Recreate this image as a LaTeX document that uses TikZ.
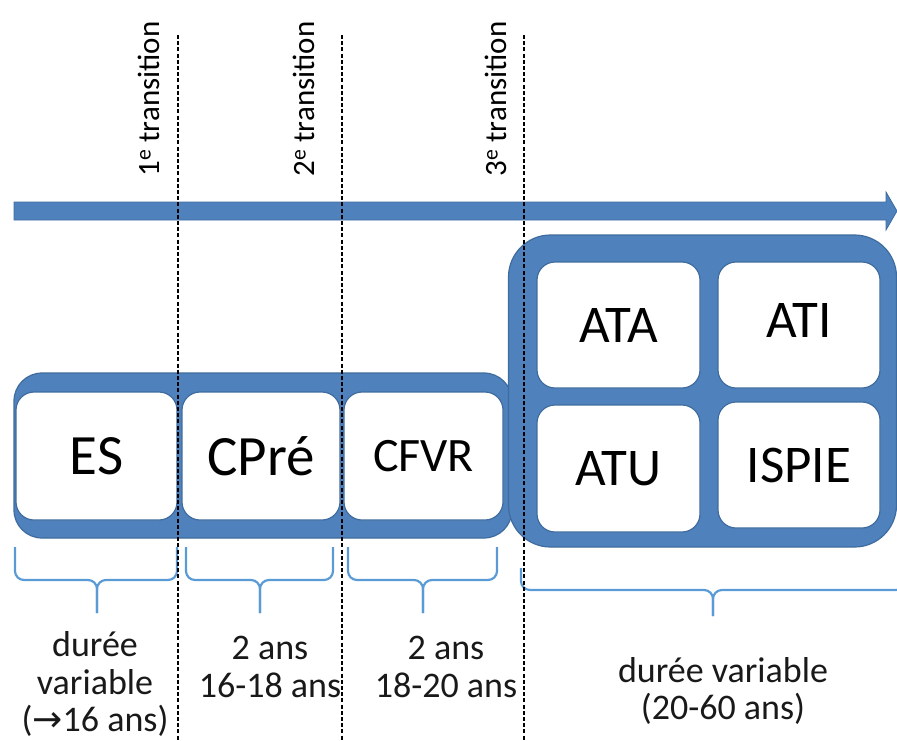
\documentclass[tikz,border=0pt]{standalone}
\usepackage{fontspec}
\setmainfont{Carlito}
\newfontfamily\symfont{DejaVu Sans}
\definecolor{boxblue}{HTML}{4F81BD}
\definecolor{boxedge}{HTML}{3F6C9E}
\definecolor{braceblue}{HTML}{5B9BD5}
\newcommand\fszBig{\fontsize{57}{60}\selectfont}
\newcommand\fszMid{\fontsize{53}{56}\selectfont}
\newcommand\fszSmall{\fontsize{48}{50}\selectfont}
\newcommand\fszLab{\fontsize{36}{37.5}\selectfont}
\newcommand\fszRot{\fontsize{31}{33}\selectfont}
\begin{document}
\begin{tikzpicture}[x=1pt,y=-1pt,
  cont/.style={draw=boxedge, fill=boxblue, line width=1.2pt, inner sep=0pt},
  ibox/.style={draw=boxedge, fill=white, line width=1.2pt, rounded corners=18pt, inner sep=0pt},
  divline/.style={black, line width=1.8pt, dash pattern=on 4pt off 2.2pt},
  bracestyle/.style={braceblue, line width=2.2pt, rounded corners=9pt},
  rotlab/.style={rotate=90, font=\fszRot, inner sep=0pt},
  durlab/.style={align=center, font=\fszLab, inner sep=0pt, text=black!90}]
\useasboundingbox (0,0) rectangle (897,740);

% timeline arrow
\filldraw[fill=boxblue, draw=boxedge, line width=0.8pt]
  (14,202) -- (886,202) -- (886,192) -- (897,211) -- (886,230) -- (886,220) -- (14,220) -- cycle;

% containers
\node[cont, rounded corners=28pt, minimum width=498pt, minimum height=165pt] (left) at (263,455.5) {};
\node[cont, rounded corners=42pt, minimum width=388pt, minimum height=312pt] (right) at (702.5,391) {};

% inner boxes
\node[ibox, minimum width=161pt, minimum height=128pt, font=\fszBig] (es) at (96.5,456) {ES};
\node[ibox, minimum width=158pt, minimum height=128pt, font=\fszBig] (cpre) at (261,456) {CPré};
\node[ibox, minimum width=159pt, minimum height=128pt, font=\fszSmall] (cfvr) at (423.5,456) {CFVR};

\node[ibox, minimum width=163pt, minimum height=126pt, font=\fszMid] (ata) at (618.5,325) {\raisebox{-2pt}{ATA}\hspace{12pt}};
\node[ibox, minimum width=162pt, minimum height=126pt, font=\fszMid] (ati) at (799,325) {\raisebox{9pt}{ATI}};
\node[ibox, minimum width=163pt, minimum height=127pt, font=\fszMid] (atu) at (618.5,468.5) {ATU\hspace{8pt}};
\node[ibox, minimum width=162pt, minimum height=126pt, font=\fszMid] (ispie) at (799,465) {ISPIE\hspace{8pt}};

% braces
\draw[bracestyle] (15,547) -- (15,580) -- (97,580) -- (97,613);
\draw[bracestyle] (177,547) -- (177,580) -- (97,580) -- (97,613);
\draw[bracestyle] (186,547) -- (186,580) -- (260,580) -- (260,613);
\draw[bracestyle] (333,547) -- (333,580) -- (260,580) -- (260,613);
\draw[bracestyle] (348,547) -- (348,580) -- (423,580) -- (423,613);
\draw[bracestyle] (497,547) -- (497,580) -- (423,580) -- (423,613);
\draw[bracestyle] (521,568) -- (521,590) -- (713,590) -- (713,616);
\draw[bracestyle] (905,568) -- (905,590) -- (713,590) -- (713,616);

% duration labels
\node[durlab] (d1) at (95,684) {durée\\variable\\({\symfont\fontsize{36}{37.5}\selectfont →}16 ans)};
\node[durlab] (d2) at (270,667) {2 ans\\16-18 ans};
\node[durlab] (d3) at (446,667) {2 ans\\18-20 ans};
\node[durlab] (d4) at (723,691) {durée variable\\(20-60 ans)};

% transition labels
\node[rotlab] (t1) at (149,99) {1\textsuperscript{e} transition};
\node[rotlab] (t2) at (304,99) {2\textsuperscript{e} transition};
\node[rotlab] (t3) at (496,99) {3\textsuperscript{e} transition};

% transition lines
\coordinate (l1a) at (178,35); \coordinate (l1b) at (178,740);
\coordinate (l2a) at (342,35); \coordinate (l2b) at (342,740);
\coordinate (l3a) at (524,35); \coordinate (l3b) at (524,740);
\draw[divline] (l1a) -- (l1b);
\draw[divline] (l2a) -- (l2b);
\draw[divline] (l3a) -- (l3b);
\end{tikzpicture}
\end{document}
